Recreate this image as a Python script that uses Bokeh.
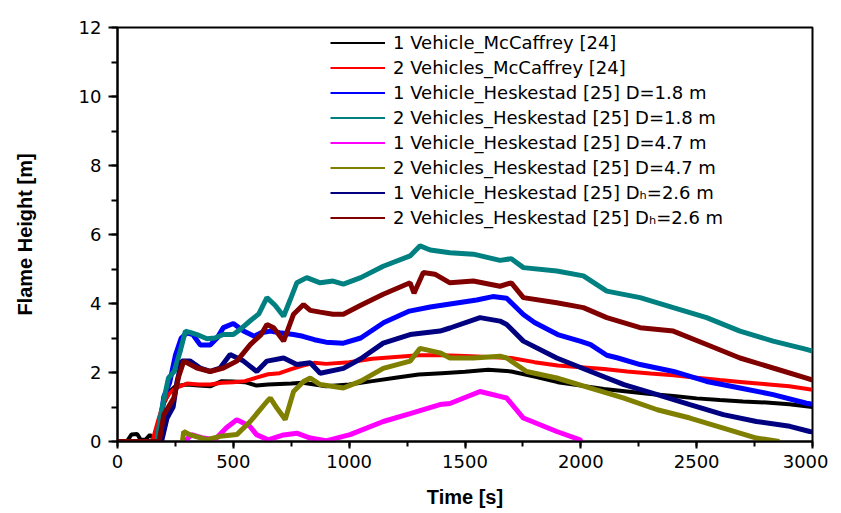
from bokeh.plotting import figure
from bokeh.models import SingleIntervalTicker, Range1d, Legend, LegendItem
from bokeh.embed import file_html
from bokeh.resources import INLINE

# ---- data (time [s], flame height [m]) ----
t_black = [0, 40, 60, 85, 100, 120, 140, 160, 175, 200, 225, 250, 300, 350, 400, 450, 500, 550, 600, 650, 700, 750, 800,
           900, 1000, 1100, 1200, 1300, 1400, 1500, 1600, 1700, 1800, 1900, 2000, 2100, 2200, 2300, 2400, 2500, 2600,
           2700, 2800, 2900, 3000]
v_black = [0, 0, 0.2, 0.22, 0.05, 0.05, 0.19, 0.05, 0.3, 1.1, 1.45, 1.6, 1.65, 1.62, 1.6, 1.75, 1.74, 1.72, 1.62, 1.65,
           1.67, 1.68, 1.7, 1.6, 1.65, 1.75, 1.85, 1.94, 1.98, 2.02, 2.08, 2.03, 1.88, 1.72, 1.62, 1.52, 1.45, 1.38,
           1.32, 1.25, 1.2, 1.16, 1.13, 1.08, 1.0]

t_red = [0, 150, 175, 200, 225, 250, 300, 350, 400, 450, 500, 550, 600, 650, 700, 750, 800, 850, 900, 1000, 1100, 1200,
         1300, 1400, 1500, 1600, 1700, 1800, 1900, 2000, 2100, 2200, 2300, 2400, 2500, 2600, 2700, 2800, 2900, 3000]
v_red = [0, 0, 0.6, 1.15, 1.4, 1.55, 1.68, 1.65, 1.65, 1.7, 1.72, 1.75, 1.85, 1.95, 1.98, 2.1, 2.2, 2.28, 2.25, 2.3,
         2.4, 2.45, 2.5, 2.5, 2.48, 2.45, 2.42, 2.3, 2.2, 2.15, 2.1, 2.03, 1.97, 1.92, 1.85, 1.78, 1.72, 1.66, 1.6, 1.5]

t_blue = [0, 175, 190, 200, 225, 250, 275, 300, 325, 357, 400, 430, 457, 500, 544, 590, 620, 660, 700, 760, 800, 850,
          900, 975, 1050, 1150, 1260, 1350, 1450, 1550, 1620, 1680, 1752, 1800, 1900, 2000, 2042, 2112, 2160, 2256,
          2400, 2543, 2687, 2830, 2974, 3000]
v_blue = [0, 0, 0.8, 1.3, 1.7, 2.5, 3.0, 3.15, 3.1, 2.8, 2.8, 3.0, 3.3, 3.42, 3.2, 3.05, 3.15, 3.2, 3.15, 3.1, 3.05,
          2.95, 2.88, 2.85, 3.0, 3.45, 3.78, 3.9, 4.0, 4.1, 4.2, 4.15, 3.68, 3.45, 3.1, 2.9, 2.81, 2.5, 2.42, 2.23,
          2.03, 1.74, 1.55, 1.36, 1.11, 1.08]

t_teal = [0, 170, 190, 220, 245, 270, 293, 320, 343, 386, 420, 457, 500, 530, 573, 610, 645, 680, 717, 745, 774, 817,
          875, 930, 975, 1050, 1147, 1263, 1306, 1350, 1435, 1536, 1651, 1700, 1752, 1896, 2011, 2112, 2256, 2399,
          2543, 2687, 2830, 2974, 3000]
v_teal = [0, 0, 0.9, 1.84, 2.03, 2.6, 3.2, 3.15, 3.1, 2.98, 3.0, 3.1, 3.1, 3.25, 3.5, 3.7, 4.17, 3.95, 3.63, 4.1,
          4.6, 4.75, 4.6, 4.65, 4.56, 4.75, 5.08, 5.38, 5.67, 5.55, 5.47, 5.43, 5.25, 5.3, 5.04, 4.94, 4.8, 4.36,
          4.17, 3.88, 3.59, 3.2, 2.91, 2.67, 2.62]

t_magenta = [290, 320, 370, 420, 470, 515, 570, 600, 650, 717, 774, 832, 900, 1004, 1147, 1263, 1392, 1435, 1565,
             1651, 1680, 1752, 1896, 1997, 2000]
v_magenta = [0, 0.2, 0.1, 0.05, 0.4, 0.63, 0.45, 0.2, 0.05, 0.19, 0.24, 0.1, 0.02, 0.2, 0.58, 0.81, 1.07, 1.1, 1.45,
             1.31, 1.26, 0.68, 0.29, 0.05, 0]

t_olive = [280, 286, 314, 386, 443, 515, 573, 645, 660, 688, 724, 760, 803, 832, 875, 975, 1050, 1147, 1263, 1306,
           1392, 1435, 1536, 1651, 1680, 1766, 1896, 2042, 2186, 2330, 2471, 2615, 2758, 2857]
v_olive = [0, 0.29, 0.19, 0.05, 0.15, 0.2, 0.58, 1.16, 1.26, 0.97, 0.64, 1.45, 1.74, 1.84, 1.65, 1.55, 1.75, 2.12,
           2.33, 2.7, 2.57, 2.42, 2.42, 2.47, 2.42, 2.03, 1.84, 1.55, 1.26, 0.92, 0.68, 0.39, 0.1, 0.0]

t_navy = [0, 190, 214, 240, 257, 278, 314, 357, 400, 443, 486, 544, 601, 645, 717, 774, 832, 875, 975, 1050, 1147,
          1263, 1392, 1435, 1565, 1651, 1680, 1752, 1896, 2042, 2186, 2330, 2471, 2615, 2758, 2902, 2988, 3000]
v_navy = [0, 0, 0.68, 1.0, 1.74, 2.33, 2.33, 2.13, 2.03, 2.13, 2.52, 2.33, 2.03, 2.33, 2.42, 2.23, 2.28, 1.98, 2.12,
          2.4, 2.85, 3.1, 3.2, 3.29, 3.59, 3.49, 3.39, 2.91, 2.42, 2.03, 1.65, 1.36, 1.07, 0.78, 0.58, 0.44, 0.29, 0.28]

t_maroon = [0, 180, 200, 243, 265, 286, 343, 400, 457, 515, 573, 620, 645, 674, 717, 760, 803, 832, 875, 930, 975,
            1050, 1147, 1263, 1280, 1320, 1370, 1435, 1536, 1651, 1700, 1752, 1896, 2011, 2112, 2256, 2399, 2543,
            2687, 2830, 2974, 3000]
v_maroon = [0, 0, 0.78, 1.26, 1.9, 2.33, 2.13, 2.03, 2.13, 2.33, 2.81, 3.1, 3.39, 3.3, 2.91, 3.69, 3.97, 3.8, 3.75,
            3.69, 3.69, 3.95, 4.27, 4.6, 4.3, 4.9, 4.85, 4.6, 4.65, 4.5, 4.6, 4.17, 4.02, 3.88, 3.59, 3.3, 3.2, 2.81,
            2.42, 2.13, 1.84, 1.78]

labels = [
    "1 Vehicle_McCaffrey [24]",
    "2 Vehicles_McCaffrey [24]",
    "1 Vehicle_Heskestad [25] D=1.8 m",
    "2 Vehicles_Heskestad [25] D=1.8 m",
    "1 Vehicle_Heskestad [25] D=4.7 m",
    "2 Vehicles_Heskestad [25] D=4.7 m",
    "1 Vehicle_Heskestad [25] D\u2095=2.6 m",
    "2 Vehicles_Heskestad [25] D\u2095=2.6 m",
]
colors = ["#000000", "#ff0000", "#0000ff", "#008080", "#ff00ff", "#808000", "#000080", "#800000"]
series = [(t_black, v_black), (t_red, v_red), (t_blue, v_blue), (t_teal, v_teal),
          (t_magenta, v_magenta), (t_olive, v_olive), (t_navy, v_navy), (t_maroon, v_maroon)]
widths = [4, 4, 5, 5, 5, 5, 5, 5]

p = figure(width=828, height=510, output_backend="svg", toolbar_location=None,
           x_range=Range1d(0, 3000), y_range=Range1d(0, 12),
           min_border_left=117, min_border_right=16, min_border_top=27, min_border_bottom=68)

items = []
for (t, v), c, lab, w in zip(series, colors, labels, widths):
    p.line(t, v, line_color=c, line_width=w)
    # thin legend key: a single-point line (draws nothing in the plot)
    key = p.line(t[:1], v[:1], line_color=c, line_width=2)
    items.append(LegendItem(label=lab, renderers=[key]))

p.xgrid.visible = False
p.ygrid.visible = False
p.outline_line_color = "black"
p.outline_line_width = 2
p.background_fill_color = "white"
p.border_fill_color = "white"

p.xaxis.ticker = SingleIntervalTicker(interval=500, num_minor_ticks=2)
p.yaxis.ticker = SingleIntervalTicker(interval=2, num_minor_ticks=2)

for ax in (p.xaxis[0], p.yaxis[0]):
    ax.axis_line_width = 2
    ax.axis_line_color = "black"
    ax.major_tick_line_width = 2
    ax.minor_tick_line_width = 2
    ax.major_tick_in = 0
    ax.minor_tick_in = 0
    ax.major_label_text_font = "DejaVu Sans"
    ax.major_label_text_font_size = "18px"
    ax.major_label_text_color = "black"
    ax.axis_label_text_font = "Liberation Sans"
    ax.axis_label_text_font_style = "bold"
    ax.axis_label_text_font_size = "20px"
    ax.axis_label_text_color = "black"

p.xaxis.major_tick_out = 7
p.xaxis.minor_tick_out = 5
p.yaxis.major_tick_out = 9
p.yaxis.minor_tick_out = 6
p.xaxis.axis_label = "Time [s]"
p.yaxis.axis_label = "Flame Height [m]"
p.xaxis.major_label_standoff = 6
p.yaxis.major_label_standoff = 7
p.xaxis.axis_label_standoff = 15
p.yaxis.axis_label_standoff = 40

lg = Legend(items=items, location=(211, 209), padding=2, margin=0, spacing=0,
            label_height=25, glyph_height=25, glyph_width=55, label_standoff=8,
            label_text_font="DejaVu Sans", label_text_font_size="18px", label_text_color="black",
            border_line_alpha=0, background_fill_alpha=0)
p.add_layout(lg)

open("out.html", "w").write(file_html(p, INLINE))
